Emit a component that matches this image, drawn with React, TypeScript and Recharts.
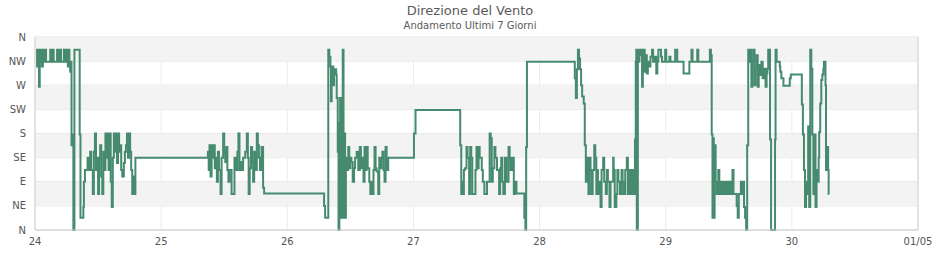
import { LineChart, Line, XAxis, YAxis, CartesianGrid, ReferenceArea, ReferenceLine } from 'recharts'

// hours since 24/04 00:00, direction in degrees
const day24: [number, number][] = [
  [0.2, 336], [0.4, 305], [0.6, 336], [0.75, 267], [0.9, 314], [1.1, 336], [1.3, 305], [1.5, 336],
  [1.8, 314], [1.9, 336], [2.1, 314], [2.9, 336], [3.05, 314], [3.4, 336], [3.55, 314], [4.2, 336],
  [4.35, 314], [4.5, 336], [4.65, 314], [4.8, 336], [4.95, 314], [5.5, 336], [5.65, 314], [5.8, 336],
  [5.95, 314], [6.1, 336], [6.25, 305], [6.4, 336], [6.55, 314], [6.7, 295], [6.85, 314], [6.95, 158],
  [7.1, 178], [7.3, 0], [7.5, 336], [8.5, 178], [8.65, 23], [9.2, 43], [9.3, 90], [9.5, 112],
  [10.0, 135], [10.3, 112], [10.5, 146], [10.7, 112], [11.0, 67], [11.2, 146], [11.4, 180], [11.6, 112],
  [11.8, 135], [12.0, 67], [12.2, 135], [12.4, 158], [12.6, 100], [12.8, 67], [13.0, 146], [13.2, 112],
  [13.4, 180], [13.6, 135], [13.8, 180], [14.0, 112], [14.2, 180], [14.4, 90], [14.6, 43], [14.8, 135],
  [15.0, 180], [15.2, 146], [15.4, 180], [15.6, 125], [15.8, 180], [16.0, 146], [16.2, 158], [16.4, 112],
  [16.6, 100], [16.9, 125], [17.1, 146], [17.3, 158], [17.5, 180], [17.7, 135], [17.9, 180], [18.1, 146],
  [18.3, 112], [18.5, 67], [18.7, 100], [18.9, 67], [19.1, 135]
]

const day25: [number, number][] = [
  [32.9, 146], [33.05, 112], [33.2, 158], [33.4, 100], [33.6, 158], [33.8, 135], [34.0, 158], [34.2, 115],
  [34.4, 135], [34.6, 90], [34.8, 146], [35.0, 112], [35.3, 67], [35.5, 135], [35.8, 180], [36.0, 146],
  [36.2, 127], [36.4, 155], [36.6, 112], [36.8, 90], [37.0, 112], [37.4, 67], [37.95, 135], [38.2, 112],
  [38.5, 146], [38.7, 180], [38.9, 112], [39.1, 127], [39.3, 112], [39.6, 135], [40.0, 146], [40.3, 180],
  [40.5, 135], [40.65, 67], [40.85, 115], [41.1, 155], [41.3, 127], [41.5, 90], [41.7, 146], [41.9, 112],
  [42.2, 180], [42.4, 158], [42.6, 135], [42.8, 112], [43.1, 155], [43.4, 79], [43.6, 68]
]

const day26: [number, number][] = [
  [55.0, 45], [55.2, 23], [55.8, 336], [56.0, 323], [56.2, 305], [56.3, 240], [56.45, 290], [56.6, 305],
  [56.75, 270], [56.9, 290], [57.1, 300], [57.3, 290], [57.4, 246], [57.6, 146], [57.75, 0], [57.9, 200],
  [58.05, 246], [58.2, 23], [58.35, 200], [58.55, 336], [58.7, 23], [58.85, 180], [59.0, 23], [59.15, 135],
  [59.35, 112], [59.6, 155], [59.8, 115], [60.0, 135], [60.2, 127], [60.45, 90], [60.7, 115], [60.9, 135],
  [61.2, 146], [61.5, 112], [61.8, 155], [62.0, 115], [62.3, 135], [62.5, 90], [62.7, 155], [62.9, 112],
  [63.1, 155], [63.3, 115], [63.6, 90], [63.8, 67], [64.0, 90], [64.2, 67], [64.4, 112], [64.6, 155],
  [64.8, 115], [65.0, 109], [65.3, 67], [65.5, 135], [65.7, 115], [65.9, 135], [66.1, 146], [66.3, 112],
  [66.5, 90], [66.7, 155], [66.9, 112], [67.2, 135], [72.1, 180], [72.4, 224]
]

const day27: [number, number][] = [
  [80.9, 158], [81.1, 67], [81.3, 90], [81.45, 67], [81.6, 112], [81.8, 115], [82.1, 155], [82.3, 135],
  [82.6, 67], [82.8, 155], [83.0, 135], [83.2, 67], [83.8, 112], [84.0, 155], [84.2, 115], [84.4, 155],
  [84.6, 135], [85.0, 112], [85.2, 90], [85.5, 67], [86.0, 90], [86.5, 180], [86.7, 171], [86.9, 90],
  [87.1, 115], [87.4, 155], [87.6, 135], [87.9, 112], [88.3, 67], [88.5, 115], [88.7, 135], [88.9, 90],
  [89.1, 67], [89.4, 135], [89.7, 90], [90.1, 155], [90.3, 135], [90.5, 112], [90.8, 135], [91.1, 67],
  [91.3, 90], [91.6, 68], [93.1, 23], [93.3, 0], [93.45, 155], [93.6, 314]
]

const day28: [number, number][] = [
  [102.7, 283], [102.9, 246], [103.1, 300], [103.3, 336], [103.5, 320], [103.7, 300], [103.9, 270], [104.1, 249],
  [104.4, 236], [104.6, 158], [104.8, 90], [105.0, 135], [105.3, 67], [105.5, 135], [105.7, 112], [105.9, 67],
  [106.1, 112], [106.4, 158], [106.6, 135], [106.8, 67], [107.0, 112], [107.1, 67], [107.3, 90], [107.6, 43],
  [107.8, 112], [108.1, 135], [108.3, 90], [108.6, 67], [108.8, 112], [109.0, 90], [109.3, 43], [109.5, 90],
  [110.0, 135], [110.1, 112], [110.3, 43], [110.6, 67], [110.8, 112], [111.0, 90], [111.3, 67], [111.6, 112],
  [111.8, 90], [112.0, 67], [112.3, 112], [112.6, 135], [112.8, 67], [113.0, 112], [113.3, 67], [113.6, 112],
  [113.9, 67], [114.15, 169], [114.3, 314], [114.4, 336], [114.5, 0], [114.7, 336], [114.85, 314], [115.0, 326],
  [115.2, 336], [115.5, 267], [115.65, 314], [115.8, 336], [116.0, 295], [116.15, 314], [116.3, 326], [116.4, 292],
  [116.6, 314], [116.9, 305], [117.1, 323], [117.4, 336], [117.6, 314], [117.9, 323], [118.2, 292], [118.4, 314],
  [118.6, 336], [119.1, 323], [119.3, 314], [119.9, 336], [120.1, 314]
]

const day29: [number, number][] = [
  [120.7, 323], [120.9, 314], [121.8, 336], [122.2, 314], [123.4, 292], [124.5, 314], [124.9, 336], [125.1, 314],
  [126.0, 336], [126.2, 314], [128.4, 336], [128.6, 326], [128.75, 178], [128.9, 23], [129.0, 171], [129.15, 23],
  [129.3, 158], [129.5, 90], [129.7, 67], [130.0, 112], [130.2, 67], [130.4, 90], [130.6, 67], [130.8, 90],
  [131.0, 67], [131.3, 90], [131.6, 67], [131.8, 90], [132.0, 67], [132.3, 90], [132.5, 67], [132.7, 112],
  [132.9, 67], [133.5, 45], [133.7, 23], [133.9, 67], [134.3, 90], [134.5, 67], [134.7, 90], [134.9, 43],
  [135.1, 23], [135.3, 0], [135.5, 158], [135.7, 336], [135.85, 314], [136.0, 336], [136.3, 267], [136.5, 314],
  [136.7, 336], [136.9, 270], [137.1, 301], [137.3, 326], [137.5, 267], [137.7, 308], [137.95, 289], [138.2, 314],
  [138.45, 283], [138.7, 301], [139.0, 267], [139.2, 292], [139.35, 301], [139.5, 336], [139.65, 314], [139.75, 336],
  [139.85, 169], [140.05, 0], [140.8, 169], [140.9, 336], [141.1, 314], [141.7, 305], [141.8, 295], [142.0, 283],
  [142.4, 269], [143.6, 283], [143.8, 290]
]

const day30: [number, number][] = [
  [145.9, 234], [146.1, 178], [146.3, 112], [146.5, 43], [146.7, 90], [146.9, 67], [147.1, 193], [147.3, 43],
  [147.5, 336], [147.7, 301], [147.9, 178], [148.1, 67], [148.3, 178], [148.5, 43], [148.7, 112], [148.9, 90],
  [149.1, 135], [149.2, 183], [149.4, 236], [149.6, 280], [149.8, 290], [150.0, 301], [150.1, 314], [150.4, 270],
  [150.5, 112], [150.7, 155], [150.9, 112], [151.0, 67], [151.1, 67]
]

const dayTicks = [0, 24, 48, 72, 96, 120, 144, 168]
const dayLabels = ['24', '25', '26', '27', '28', '29', '30', '01/05']
const dirTicks = [0, 45, 90, 135, 180, 225, 270, 315, 360]
const dirLabels = ['N', 'NE', 'E', 'SE', 'S', 'SW', 'W', 'NW', 'N']

const data = [...day24, ...day25, ...day26, ...day27, ...day28, ...day29, ...day30].map(([h, dir]) => ({ h, dir }))

const font = 'DejaVu Sans, Verdana, sans-serif'

export default function App() {
  return (
    <div style={{ position: 'absolute', left: 0, top: 0, width: 940, height: 260, background: '#fff', fontFamily: font }}>
      <div style={{ position: 'absolute', top: 3, width: 940, textAlign: 'center', fontSize: 13, color: '#5a5a5a' }}>
        Direzione del Vento
      </div>
      <div style={{ position: 'absolute', top: 20, width: 940, textAlign: 'center', fontSize: 10, color: '#5a5a5a' }}>
        Andamento Ultimi 7 Giorni
      </div>
      <LineChart width={940} height={260} data={data} margin={{ top: 37, right: 22, bottom: 0, left: 0 }}>
        {dirTicks.slice(0, -1).map((t, i) =>
          i % 2 === 1 ? (
            <ReferenceArea key={t} y1={t} y2={dirTicks[i + 1]} fill="#f3f3f3" fillOpacity={1} stroke="none" />
          ) : null
        )}
        <CartesianGrid vertical={false} stroke="#dedede" />
        <CartesianGrid horizontal={false} stroke="#ece9f8" />
        <XAxis
          dataKey="h"
          type="number"
          domain={[0, 168]}
          ticks={dayTicks}
          tickFormatter={(v: number) => dayLabels[dayTicks.indexOf(v)]}
          height={30}
          tickLine={false}
          axisLine={{ stroke: '#d0d0d0' }}
          tick={{ fontSize: 10, fill: '#555', fontFamily: font }}
        />
        <YAxis
          type="number"
          domain={[0, 360]}
          ticks={dirTicks}
          interval={0}
          tickFormatter={(v: number) => dirLabels[dirTicks.indexOf(v)]}
          width={35}
          tickLine={false}
          tickSize={0}
          tickMargin={9}
          axisLine={{ stroke: '#d0d0d0' }}
          tick={{ fontSize: 10, fill: '#555', fontFamily: font }}
        />
        <ReferenceLine x={168} stroke="#d0d0d0" />
        <Line
          type="stepAfter"
          dataKey="dir"
          stroke="#468a70"
          strokeWidth={2}
          dot={false}
          isAnimationActive={false}
        />
      </LineChart>
    </div>
  )
}
